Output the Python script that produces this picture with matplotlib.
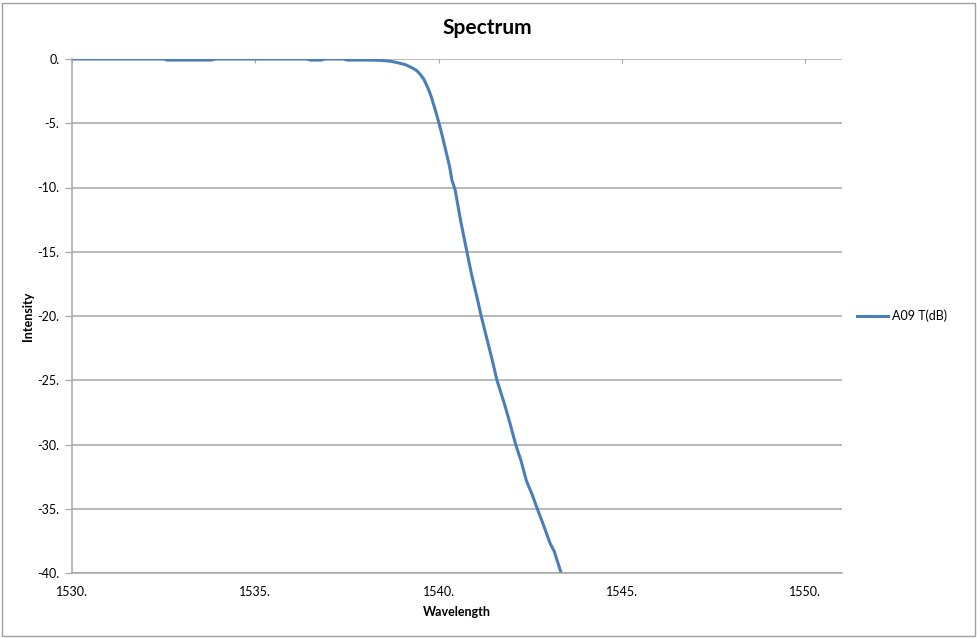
import matplotlib.pyplot as plt
from matplotlib.patches import Rectangle

plt.rcParams['font.family'] = ['Lato', 'DejaVu Sans']

# spectrum
wavelength = [1530.0, 1532.5, 1532.6, 1533.8, 1533.9, 1536.4, 1536.5, 1536.8, 1536.9,
              1537.4, 1537.5, 1538.0, 1538.4, 1538.7, 1538.9, 1539.1, 1539.25, 1539.4,
              1539.5, 1539.6, 1539.7, 1539.8, 1539.9, 1540.0, 1540.1, 1540.2, 1540.3,
              1540.36, 1540.45, 1540.6, 1540.77, 1540.9, 1541.0, 1541.05, 1541.16,
              1541.3, 1541.45, 1541.59, 1541.8, 1541.95, 1542.1, 1542.25, 1542.39,
              1542.55, 1542.69, 1542.85, 1543.04, 1543.15, 1543.34]
intensity = [0.0, 0.0, -0.08, -0.08, 0.0, 0.0, -0.08, -0.08, 0.0,
             0.0, -0.08, -0.08, -0.1, -0.18, -0.3, -0.45, -0.65, -0.9,
             -1.2, -1.6, -2.2, -2.95, -3.9, -4.9, -6.0, -7.2, -8.4,
             -9.4, -10.2, -12.6, -15.0, -16.8, -18.0, -18.6, -20.0,
             -21.6, -23.3, -25.0, -26.9, -28.4, -30.0, -31.3, -32.8,
             -33.9, -35.0, -36.2, -37.7, -38.3, -40.0]
xticks = [1530, 1535, 1540, 1545, 1550]
yticks = [0, -5, -10, -15, -20, -25, -30, -35, -40]

fig = plt.figure(figsize=(9.78, 6.38), dpi=100)
ax = fig.add_axes([72 / 978, 1 - 573 / 638, (842 - 72) / 978, (573 - 59) / 638])

ax.plot(wavelength, intensity, color='#4a7ebb', lw=2.2, label='A09 T(dB)')

ax.set_xlim(1530, 1551)
ax.set_ylim(-40, 0)
ax.set_xticks(xticks)
ax.set_xticklabels([f'{t}.' for t in xticks])
ax.set_yticks(yticks)
ax.set_yticklabels([f'{t}.' for t in yticks])

ax.grid(axis='y', color='#a6a6a6', lw=1.1)
ax.set_axisbelow(True)
for s in ['top', 'right']:
    ax.spines[s].set_visible(False)
for s in ['left', 'bottom']:
    ax.spines[s].set_color('#a6a6a6')
    ax.spines[s].set_linewidth(1.1)

ax.tick_params(axis='y', length=5, color='#a6a6a6', labelsize=9, pad=4)
ax.tick_params(axis='x', bottom=False, top=True, labeltop=False, labelbottom=True,
               direction='in', length=3, color='#a6a6a6', labelsize=9, pad=9)

ax.set_xlabel('Wavelength', fontsize=9, fontweight='bold', labelpad=6)
ax.set_ylabel('Intensity', fontsize=9, fontweight='bold', labelpad=2)
fig.text(487 / 978, 1 - 28 / 638, 'Spectrum', ha='center', va='center',
         fontsize=15, fontweight='bold')

ax.legend(loc='center left', bbox_to_anchor=(1.005, 0.5), frameon=False,
          fontsize=9, handlelength=2.5, handletextpad=0.3)

fig.patches.append(Rectangle((2 / 978, 2 / 638), 973 / 978, 633 / 638,
                             transform=fig.transFigure, fill=False,
                             edgecolor='#a0a0a0', lw=1))

fig.savefig('out.png', dpi=100)
